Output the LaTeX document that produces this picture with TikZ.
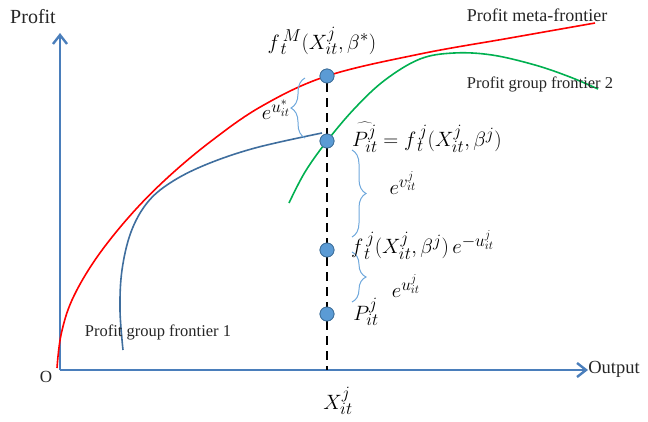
\documentclass[tikz,border=0pt]{standalone}
\usepackage{fontspec}
\setmainfont{Liberation Serif}
\DeclareMathSizes{20}{20}{16}{13}
\usetikzlibrary{arrows.meta,decorations.pathreplacing}
\definecolor{axisblue}{HTML}{4A7EBB}
\definecolor{ptfill}{HTML}{5B9BD5}
\definecolor{ptdraw}{HTML}{41719C}
\definecolor{grpone}{HTML}{3F6E9E}
\definecolor{grptwo}{HTML}{00B050}
\definecolor{bracecol}{HTML}{6FA8DC}
\definecolor{txt}{HTML}{262626}
\tikzset{
  axisline/.style={draw=axisblue,line width=2.4pt,-{Straight Barb[length=9pt,width=14pt,line width=2.4pt]}},
  pt/.style={circle,fill=ptfill,draw=ptdraw,line width=0.8pt,minimum size=14pt,inner sep=0pt},
  bracedec/.style={draw=bracecol,line width=1pt,decorate,decoration={brace,amplitude=14pt}},
  lbl/.style={text=txt,inner sep=1pt},
  mlbl/.style={text=black,inner sep=1pt,font=\fontsize{20}{24}\selectfont},
}
\begin{document}
\begin{tikzpicture}[x=1pt,y=-1pt]
\useasboundingbox (0,0) rectangle (648,421);
% axes
\coordinate (O) at (60,370);
\coordinate (ytop) at (60,33);
\coordinate (xend) at (588,370);
\coordinate (xbase) at (327,370);
\draw[axisline] (O) -- (ytop);
\draw[axisline] (O) -- (xend);
\node[lbl,font=\fontsize{20}{22}\selectfont] (profit) at (33,17) {Profit};
\node[lbl,font=\fontsize{17}{20}\selectfont] (o) at (46,377) {O};
\node[lbl,font=\fontsize{18.5}{20}\selectfont] (output) at (614,369) {Output};
% points
\node[pt] (p1) at (327,76) {};
\node[pt] (p2) at (327,141) {};
\node[pt] (p3) at (327,250) {};
\node[pt] (p4) at (327,314) {};
% dashed line
\draw[black,line width=1.8pt,dash pattern=on 9pt off 6pt] (p1) -- (p2) -- (p3) -- (p4) -- (xbase);
% curves
\draw[red,line width=1.6pt] plot[smooth,tension=0.6] coordinates {(57,368) (61,335) (72,300) (95,260) (128,218) (165,180) (210,142) (262,106) (327,76) (420,54) (510,38) (595,23)};
\draw[grptwo,line width=1.6pt] plot[smooth,tension=0.6] coordinates {(289,203) (305,172) (327,141) (355,108) (385,80) (420,59) (454,53) (492,55) (535,65) (570,77) (598,89)};
\draw[grpone,line width=1.6pt] plot[smooth,tension=0.6] coordinates {(123,350) (120,310) (122,270) (131,232) (147,203) (170,183) (205,165) (255,148) (322,133)};
\foreach \n in {p1,p2,p3,p4} \node[pt] at (\n) {};
% braces
\draw[bracedec] (305,138) -- (305,78);
\draw[bracedec] (352,150) -- (352,237);
\draw[bracedec] (352,252) -- (352,302);
% labels
\node[lbl,font=\fontsize{18}{20}\selectfont] (meta) at (537,15) {Profit meta-frontier};
\node[lbl,font=\fontsize{16.5}{19}\selectfont] (g2) at (540,84) {Profit group frontier 2};
\node[lbl,font=\fontsize{16.5}{19}\selectfont] (g1) at (158,332) {Profit group frontier 1};
\node[mlbl] (fm) at (322,41) {$f_{\,t}^{\,M}(X_{it}^j,\beta^*)$};
\node[mlbl] (eu1) at (276,110) {$e^{u_{it}^*}$};
\node[mlbl,anchor=west] (phat) at (351,137) {$\widehat{P_{it}^{j}\vphantom{P^{j^j}}}=f_{\,t}^{\,j}(X_{it}^j,\beta^j)$};
\node[mlbl] (ev) at (403,183) {$e^{v_{it}^j}$};
\node[mlbl,anchor=west] (fe) at (350,245) {$f_{\,t}^{\,j}(X_{it}^j,\beta^j)\,e^{-u_{it}^j}$};
\node[mlbl] (eu2) at (406,286) {$e^{u_{it}^j}$};
\node[mlbl] (pit) at (366,312) {$P_{it}^j$};
\node[mlbl] (xit) at (338,401) {$X_{it}^j$};
\end{tikzpicture}
\end{document}
